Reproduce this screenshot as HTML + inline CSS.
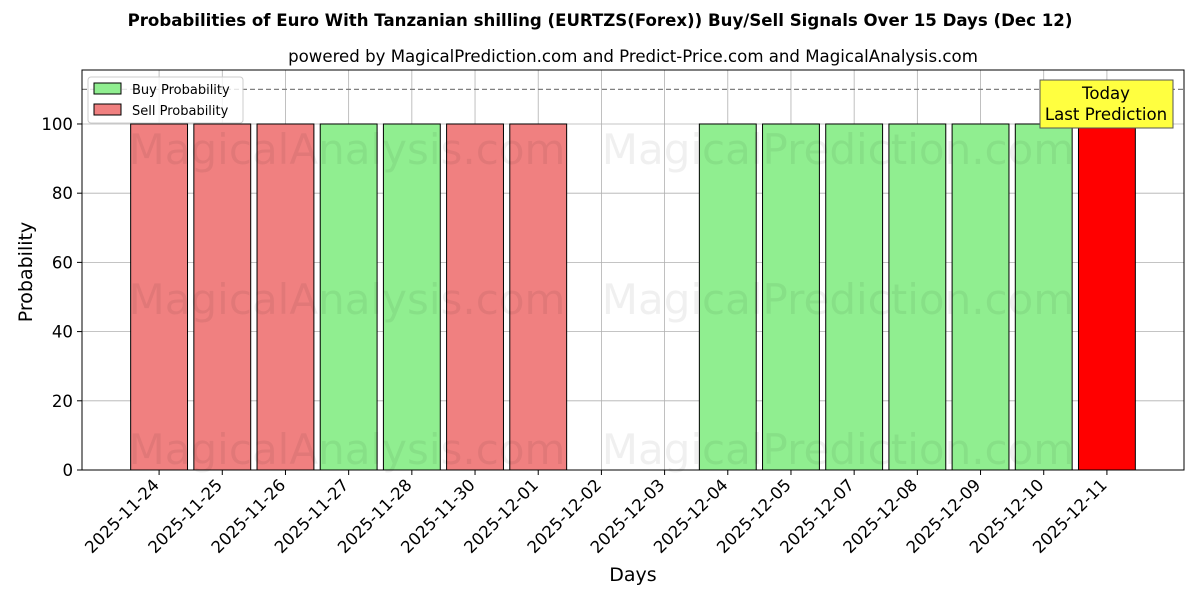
<!DOCTYPE html>
<html><head><meta charset="utf-8"><style>
body{margin:0;background:#fff;font-family:"Liberation Sans","DejaVu Sans",sans-serif}
</style></head><body>
<svg id="chart" width="1200" height="600" xmlns="http://www.w3.org/2000/svg" font-family="DejaVu Sans, Liberation Sans, sans-serif"></svg>
<script>
const categories=["2025-11-24","2025-11-25","2025-11-26","2025-11-27","2025-11-28","2025-11-30","2025-12-01","2025-12-02","2025-12-03","2025-12-04","2025-12-05","2025-12-07","2025-12-08","2025-12-09","2025-12-10","2025-12-11"];
const buyValues=[0,0,0,100,100,0,0,0,0,100,100,100,100,100,100,0];
const sellValues=[100,100,100,0,0,100,100,0,0,0,0,0,0,0,0,100];
const yTicks=[0,20,40,60,80,100];
const NS="http://www.w3.org/2000/svg";
const svg=document.getElementById('chart');
const L=82,R=1184,T=70,B=470;
const xmin=-1.22,xmax=16.22,ymin=0,ymax=115.6;
const xs=i=>L+(i-xmin)/(xmax-xmin)*(R-L);
const ys=v=>B-(v-ymin)/(ymax-ymin)*(B-T);
const bw=0.9*(R-L)/(xmax-xmin);
function el(t,a,p){const e=document.createElementNS(NS,t);for(const k in a)e.setAttribute(k,a[k]);(p||svg).appendChild(e);return e;}
function tx(s,a){const e=el('text',a);e.textContent=s;return e;}
let e;
e=tx("Probabilities of Euro With Tanzanian shilling (EURTZS(Forex)) Buy/Sell Signals Over 15 Days (Dec 12)",{x:600,y:26,'text-anchor':'middle','font-size':16.6,'font-weight':'bold'});

e=tx("powered by MagicalPrediction.com and Predict-Price.com and MagicalAnalysis.com",{x:633,y:62,'text-anchor':'middle','font-size':16.6});

categories.forEach((c,i)=>{const g=el('line',{x1:xs(i),x2:xs(i),y1:T,y2:B,stroke:'#b0b0b0','stroke-width':0.8});
 });
yTicks.forEach(v=>{const g=el('line',{x1:L,x2:R,y1:ys(v),y2:ys(v),stroke:'#b0b0b0','stroke-width':0.8});
 });
categories.forEach((c,i)=>{
 if(buyValues[i]>0){const b=el('rect',{x:xs(i)-bw/2,y:ys(buyValues[i]),width:bw,height:ys(0)-ys(buyValues[i]),fill:'#90ee90',stroke:'#000','stroke-width':1});
  }
 if(sellValues[i]>0){const last=i===categories.length-1;
  const b=el('rect',{x:xs(i)-bw/2,y:ys(sellValues[i]),width:bw,height:ys(0)-ys(sellValues[i]),fill:last?'#ff0000':'#f08080',stroke:'#000','stroke-width':1});
  }
});
[[347,150],[838,150],[347,300],[838,300],[347,450],[838,450]].forEach((p,k)=>{
 const w=tx(k%2?"MagicalPrediction.com":"MagicalAnalysis.com",{x:p[0],y:p[1]+14,'text-anchor':'middle','font-size':42,fill:'#000','fill-opacity':0.06});
 
});
e=el('line',{x1:L,x2:R,y1:ys(110),y2:ys(110),stroke:'#808080','stroke-width':1.2,'stroke-dasharray':'5,3'});

e=el('rect',{x:L,y:T,width:R-L,height:B-T,fill:'none',stroke:'#000','stroke-width':1});

yTicks.forEach(v=>{el('line',{x1:L-5,x2:L,y1:ys(v),y2:ys(v),stroke:'#000'});
 const t=tx(String(v),{x:L-9,y:ys(v)+6,'text-anchor':'end','font-size':16.6});
 });
categories.forEach((c,i)=>{el('line',{x1:xs(i),x2:xs(i),y1:B,y2:B+5,stroke:'#000'});
 const x=xs(i)+1,y=B+16;
 const t=tx(c,{x:x,y:y,'text-anchor':'end','font-size':16.6,transform:`rotate(-45 ${x} ${y})`});
 });
e=tx("Days",{x:633,y:581,'text-anchor':'middle','font-size':19});

e=tx("Probability",{x:32,y:272,'text-anchor':'middle','font-size':19,transform:'rotate(-90 32 272)'});

const lg=el('g',{});
el('rect',{x:88,y:77,width:155,height:46,fill:'#fff','fill-opacity':0.8,stroke:'#ccc',rx:3},lg);
el('rect',{x:94,y:83,width:27,height:11,fill:'#90ee90',stroke:'#000'},lg);
e=el('text',{x:132,y:94,'font-size':13},lg);e.textContent="Buy Probability";
el('rect',{x:94,y:104,width:27,height:11,fill:'#f08080',stroke:'#000'},lg);
e=el('text',{x:132,y:115,'font-size':13},lg);e.textContent="Sell Probability";
const an=el('g',{});
el('rect',{x:1040,y:80,width:133,height:48,fill:'#ffff40',stroke:'#555'},an);
e=el('text',{x:1106,y:99,'text-anchor':'middle','font-size':16.6},an);e.textContent="Today";
e=el('text',{x:1106,y:120,'text-anchor':'middle','font-size':16.6},an);e.textContent="Last Prediction";
</script>
</body></html>
